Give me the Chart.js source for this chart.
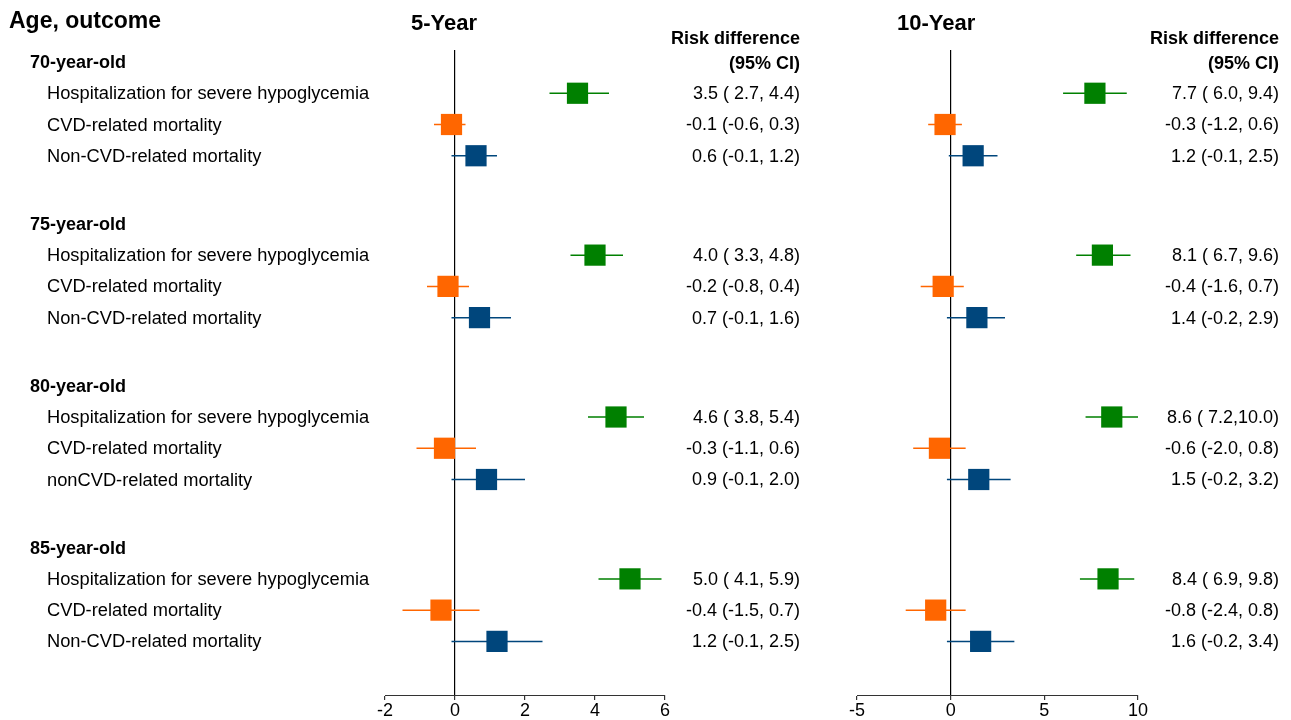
<!DOCTYPE html>
<html>
<head>
<meta charset="utf-8">
<script src="https://cdn.jsdelivr.net/npm/chart.js@4.4.0/dist/chart.umd.min.js"></script>
<style>
  body { margin: 0; background: #fff; }
  #wrap { position: relative; width: 1291px; height: 720px; }
  canvas { position: absolute; top: 0; }
</style>
</head>
<body>
<div id="wrap">
  <canvas id="chart5" width="830" height="720" style="left:0"></canvas>
  <canvas id="chart10" width="461" height="720" style="left:830px"></canvas>
</div>
<script>
// data
const ageGroups = ["70-year-old", "75-year-old", "80-year-old", "85-year-old"];
const outcomeLabels = [
  ["Hospitalization for severe hypoglycemia", "CVD-related mortality", "Non-CVD-related mortality"],
  ["Hospitalization for severe hypoglycemia", "CVD-related mortality", "Non-CVD-related mortality"],
  ["Hospitalization for severe hypoglycemia", "CVD-related mortality", "nonCVD-related mortality"],
  ["Hospitalization for severe hypoglycemia", "CVD-related mortality", "Non-CVD-related mortality"],
];
// order inside each group: hypoglycemia, CVD, non-CVD
const est5 = [3.5, -0.1, 0.6, 4.0, -0.2, 0.7, 4.6, -0.3, 0.9, 5.0, -0.4, 1.2];
const lo5 = [2.7, -0.6, -0.1, 3.3, -0.8, -0.1, 3.8, -1.1, -0.1, 4.1, -1.5, -0.1];
const hi5 = [4.4, 0.3, 1.2, 4.8, 0.4, 1.6, 5.4, 0.6, 2.0, 5.9, 0.7, 2.5];
const est10 = [7.7, -0.3, 1.2, 8.1, -0.4, 1.4, 8.6, -0.6, 1.5, 8.4, -0.8, 1.6];
const lo10 = [6.0, -1.2, -0.1, 6.7, -1.6, -0.2, 7.2, -2.0, -0.2, 6.9, -2.4, -0.2];
const hi10 = [9.4, 0.6, 2.5, 9.6, 0.7, 2.9, 10.0, 0.8, 3.2, 9.8, 0.8, 3.4];
const ticks5 = [-2, 0, 2, 4, 6];
const ticks10 = [-5, 0, 5, 10];

const colors = ["#008000", "#ff6600", "#00467c"];
const FONT = "'Liberation Sans', Arial, sans-serif";
const groupPitch = 5.18; // rows per age block (header + 3 outcomes + gap)

function rowY(g, i) {
  return g * groupPitch + i;
}

function fmt(v) {
  return v.toFixed(1).padStart(4, " ");
}

function ciText(est, lo, hi, idx) {
  return est[idx].toFixed(1) + " (" + fmt(lo[idx]) + "," + fmt(hi[idx]) + ")";
}

function buildDatasets(est, lo, hi) {
  const squares = [];
  const lines = [];
  for (let k = 0; k < 3; k++) {
    const pts = [];
    const seg = [];
    for (let g = 0; g < ageGroups.length; g++) {
      const idx = g * 3 + k;
      const y = rowY(g, k + 1);
      pts.push({ x: est[idx], y: y });
      seg.push({ x: lo[idx], y: y }, { x: hi[idx], y: y }, { x: hi[idx], y: null });
    }
    squares.push({
      type: "scatter",
      data: pts,
      pointStyle: "rect",
      pointRadius: 15,
      pointHoverRadius: 15,
      backgroundColor: colors[k],
      borderWidth: 0,
    });
    lines.push({
      type: "scatter",
      data: seg,
      showLine: true,
      spanGaps: false,
      pointRadius: 0,
      borderColor: colors[k],
      borderWidth: 1.5,
    });
  }
  return squares.concat(lines);
}

function makeOptions(ticks, padding) {
  return {
    responsive: false,
    animation: false,
    layout: { padding: padding },
    plugins: { legend: { display: false }, tooltip: { enabled: false } },
    scales: {
      x: {
        type: "linear",
        min: ticks[0],
        max: ticks[ticks.length - 1],
        afterBuildTicks: (s) => {
          s.ticks = ticks.map((v) => ({ value: v }));
        },
        afterFit: (s) => {
          s.height = 25;
        },
        border: { display: true, color: "#333", width: 1 },
        grid: {
          color: (c) => (c.tick && c.tick.value === 0 ? "#000" : "rgba(0,0,0,0)"),
          lineWidth: 1.2,
          tickColor: "#333",
          tickLength: 5,
        },
        ticks: {
          color: "#000",
          padding: 0,
          font: { family: FONT, size: 18 },
          maxRotation: 0,
        },
      },
      y: {
        type: "linear",
        display: false,
        reverse: true,
        min: -0.384,
        max: 20.256,
      },
    },
  };
}

function textPlugin(cfg) {
  return {
    id: "texts",
    afterDraw(chart) {
      const c = chart.ctx;
      const y = chart.scales.y;
      c.save();
      c.fillStyle = "#000";
      c.textBaseline = "middle";
      if (cfg.left) {
        c.textAlign = "left";
        c.font = "bold 23px " + FONT;
        c.fillText("Age, outcome", 9, 22);
        ageGroups.forEach((name, g) => {
          c.font = "bold 18px " + FONT;
          c.fillText(name, 30, y.getPixelForValue(rowY(g, 0)) + 1);
          c.font = "18.3px " + FONT;
          outcomeLabels[g].forEach((lab, k) => {
            c.fillText(lab, 47, y.getPixelForValue(rowY(g, k + 1)) + 1);
          });
        });
      }
      c.textAlign = "left";
      c.font = "bold 22px " + FONT;
      c.fillText(cfg.title, cfg.titleX, 24);
      c.textAlign = "right";
      c.font = "bold 18px " + FONT;
      c.fillText("Risk difference", cfg.textX, 39);
      c.fillText("(95% CI)", cfg.textX, 64);
      c.font = "18px " + FONT;
      for (let g = 0; g < ageGroups.length; g++) {
        for (let k = 0; k < 3; k++) {
          const idx = g * 3 + k;
          c.fillText(ciText(cfg.est, cfg.lo, cfg.hi, idx), cfg.textX, y.getPixelForValue(rowY(g, k + 1)) + 1);
        }
      }
      c.restore();
    },
  };
}

new Chart(document.getElementById("chart5"), {
  type: "scatter",
  data: { datasets: buildDatasets(est5, lo5, hi5) },
  options: makeOptions(ticks5, { left: 385, right: 165, top: 50, bottom: 0 }),
  plugins: [textPlugin({ left: true, title: "5-Year", titleX: 411, textX: 800, est: est5, lo: lo5, hi: hi5 })],
});

new Chart(document.getElementById("chart10"), {
  type: "scatter",
  data: { datasets: buildDatasets(est10, lo10, hi10) },
  options: makeOptions(ticks10, { left: 27, right: 153, top: 50, bottom: 0 }),
  plugins: [textPlugin({ left: false, title: "10-Year", titleX: 67, textX: 449, est: est10, lo: lo10, hi: hi10 })],
});
</script>
</body>
</html>
